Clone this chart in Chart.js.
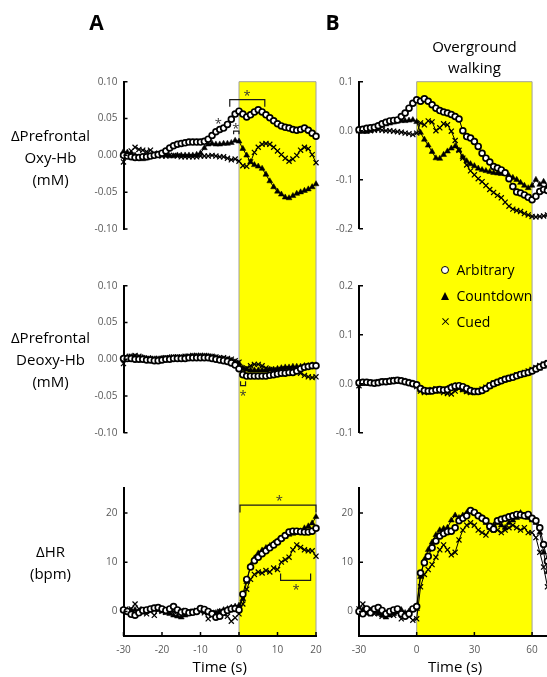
<!DOCTYPE html>
<html>
<head>
<meta charset="utf-8">
<script src="https://cdn.jsdelivr.net/npm/chart.js@4.4.0/dist/chart.umd.min.js"></script>
<style>
html, body { margin: 0; overflow: hidden; }
body { width: 547px; height: 677px; position: relative; background: #fff; font-family: 'Open Sans', sans-serif; color: #000; }
canvas { position: absolute; }
.txt { position: absolute; transform: translate(-50%, -50%); white-space: nowrap; text-align: center; }
.rotulo { font-size: 15px; line-height: 22px; }
.letra { font-size: 21px; font-weight: bold; line-height: 24px; }
.leg { position: absolute; font-size: 14px; line-height: 20px; transform: translateY(-50%); white-space: nowrap; }
.mk { position: absolute; box-sizing: border-box; }
.circ { width: 8px; height: 8px; border: 1.6px solid #000; border-radius: 50%; background: #fff; }
.tri { width: 0; height: 0; border-left: 4.5px solid transparent; border-right: 4.5px solid transparent; border-bottom: 8px solid #000; }
.cruz { width: 7px; height: 7px; }
.cruz:before, .cruz:after { content: ''; position: absolute; left: -1px; top: 2.8px; width: 9px; height: 1.4px; background: #000; }
.cruz:before { transform: rotate(45deg); }
.cruz:after { transform: rotate(-45deg); }
</style>
</head>
<body>

<canvas id="oxyA" width="330" height="257" style="left:0;top:0"></canvas>
<canvas id="deoxyA" width="330" height="203" style="left:0;top:257px"></canvas>
<canvas id="hrA" width="330" height="217" style="left:0;top:460px"></canvas>
<canvas id="oxyB" width="260" height="257" style="left:300px;top:0"></canvas>
<canvas id="deoxyB" width="260" height="203" style="left:300px;top:257px"></canvas>
<canvas id="hrB" width="260" height="217" style="left:300px;top:460px"></canvas>

<div class="txt letra" style="left:96.5px;top:22px">A</div>
<div class="txt letra" style="left:332.5px;top:22px">B</div>
<div class="txt rotulo" style="left:474.5px;top:57px;line-height:21px">Overground<br>walking</div>

<div class="txt rotulo" style="left:50.5px;top:157px">ΔPrefrontal<br>Oxy-Hb<br>(mM)</div>
<div class="txt rotulo" style="left:50.5px;top:358.7px">ΔPrefrontal<br>Deoxy-Hb<br>(mM)</div>
<div class="txt rotulo" style="left:50.5px;top:561.8px">ΔHR<br>(bpm)</div>

<span class="mk circ" style="left:441px;top:266px"></span>
<div class="leg" style="left:456.5px;top:270px">Arbitrary</div>
<span class="mk tri" style="left:440.5px;top:291.5px"></span>
<div class="leg" style="left:456.5px;top:295.7px">Countdown</div>
<span class="mk cruz" style="left:441.5px;top:318.2px"></span>
<div class="leg" style="left:456.5px;top:321.7px">Cued</div>

<script>
Chart.defaults.font.family = "'Open Sans', sans-serif";

// tempos (s)
var tempoA = [-30,-29,-28,-27,-26,-25,-24,-23,-22,-21,
              -20,-19,-18,-17,-16,-15,-14,-13,-12,-11,
              -10,-9,-8,-7,-6,-5,-4,-3,-2,-1,
              0,1,2,3,4,5,6,7,8,9,
              10,11,12,13,14,15,16,17,18,19,20];
var tempoB = [-30,-28,-26,-24,-22,-20,-18,-16,-14,-12,
              -10,-8,-6,-4,-2,0,2,4,6,8,
              10,12,14,16,18,20,22,24,26,28,
              30,32,34,36,38,40,42,44,46,48,
              50,52,54,56,58,60,62,64,66,68,70];

// A - Oxy-Hb (mM)
var oxyArbA = [0.000,-0.001,-0.002,-0.003,-0.003,-0.002,-0.002,-0.001,0.000,0.001,
               0.003,0.006,0.010,0.013,0.015,0.016,0.017,0.018,0.018,0.018,
               0.018,0.019,0.022,0.027,0.032,0.035,0.037,0.042,0.049,0.056,
               0.060,0.056,0.052,0.055,0.059,0.062,0.059,0.055,0.051,0.047,
               0.043,0.040,0.038,0.037,0.035,0.034,0.035,0.037,0.034,0.030,0.026];
var oxyCntA = [0.005,0.004,0.002,0.000,-0.003,-0.005,-0.004,-0.002,0.000,0.000,
               0.000,0.000,-0.001,-0.001,0.000,0.000,0.000,0.000,0.000,0.001,
               0.003,0.010,0.015,0.016,0.015,0.015,0.016,0.016,0.017,0.020,
               0.019,0.009,0.000,-0.009,-0.013,-0.015,-0.018,-0.026,-0.035,-0.043,
               -0.049,-0.053,-0.057,-0.058,-0.055,-0.052,-0.050,-0.048,-0.046,-0.043,-0.039];
var oxyCueA = [-0.009,0.000,0.006,0.011,0.008,0.007,0.005,0.007,0.003,0.000,
               -0.001,-0.001,0.000,0.000,-0.001,-0.002,-0.002,-0.002,-0.002,-0.002,
               -0.001,-0.001,-0.001,0.000,-0.001,-0.002,-0.002,-0.004,-0.006,-0.005,
               -0.008,-0.014,-0.015,-0.009,0.004,0.011,0.015,0.016,0.015,0.011,
               0.006,0.001,-0.004,-0.008,-0.005,0.000,0.007,0.011,0.009,0.001,-0.010];

// A - Deoxy-Hb (mM)
var deoxyArbA = [0.001,0.001,0.001,0.000,0.000,0.000,-0.001,-0.001,-0.002,-0.002,
                 -0.001,0.000,0.000,0.001,0.001,0.001,0.001,0.002,0.002,0.002,
                 0.002,0.002,0.002,0.001,0.000,-0.001,-0.002,-0.003,-0.005,-0.008,
                 -0.013,-0.021,-0.023,-0.023,-0.023,-0.023,-0.023,-0.023,-0.022,-0.021,
                 -0.020,-0.019,-0.019,-0.018,-0.018,-0.016,-0.013,-0.011,-0.010,-0.009,-0.009];
var deoxyCntA = [0.002,0.003,0.003,0.003,0.002,0.002,0.001,0.001,0.000,0.000,
                 0.001,0.001,0.002,0.002,0.002,0.002,0.003,0.003,0.004,0.004,
                 0.004,0.004,0.004,0.003,0.002,0.001,0.000,-0.001,-0.002,-0.004,
                 -0.006,-0.012,-0.014,-0.015,-0.015,-0.015,-0.015,-0.015,-0.014,-0.014,
                 -0.013,-0.012,-0.011,-0.011,-0.010,-0.010,-0.010,-0.009,-0.009,-0.008,-0.008];
var deoxyCueA = [-0.006,0.000,0.004,0.005,0.004,0.002,0.001,0.000,0.001,0.001,
                 0.001,0.002,0.002,0.003,0.003,0.003,0.004,0.004,0.005,0.005,
                 0.005,0.005,0.004,0.004,0.003,0.002,0.002,0.001,0.000,-0.002,
                 -0.004,-0.014,-0.012,-0.009,-0.007,-0.007,-0.009,-0.012,-0.014,-0.015,
                 -0.015,-0.014,-0.013,-0.013,-0.014,-0.016,-0.019,-0.022,-0.024,-0.025,-0.024];

// A - HR (bpm)
var hrArbA = [0.3,0.0,-0.6,-0.8,-0.3,0.2,0.3,0.5,0.7,0.8,
              0.5,0.2,0.5,1.0,0.3,-0.2,0.0,-0.3,-0.2,0.0,
              0.6,0.4,0.0,-0.5,-1.2,-1.0,-0.2,0.2,0.5,0.6,
              0.3,3.5,6.5,9.0,10.3,11.0,11.7,12.3,12.9,13.5,
              14.1,14.8,15.4,16.1,16.3,16.3,16.2,16.1,16.1,16.3,16.9];
var hrCntA = [0.5,0.3,0.2,0.3,0.0,-0.2,0.0,0.2,0.5,0.3,
              0.0,-0.3,-0.5,-0.8,-1.0,-1.2,-0.8,-0.5,-0.2,0.0,
              0.2,0.0,-0.3,-0.5,-0.3,0.0,0.3,0.5,0.8,1.0,
              1.2,2.5,6.0,9.3,10.8,11.8,12.4,12.9,13.3,13.8,
              14.3,14.8,15.2,15.6,15.8,16.0,16.3,16.9,17.3,17.9,19.2];
var hrCueA = [0.3,0.2,0.5,1.5,0.5,-0.2,-0.5,0.0,-0.8,0.3,
              0.0,-0.2,0.0,0.0,0.3,0.2,-0.3,0.0,0.0,0.2,
              0.0,-0.3,-1.5,-0.8,-0.2,0.0,-0.5,-1.0,-2.0,-1.3,
              -0.5,1.5,4.5,6.5,7.5,8.0,7.8,8.3,8.0,8.8,
              8.5,10.0,10.5,11.0,12.5,13.5,13.0,12.5,12.3,12.3,11.2];

// B - Oxy-Hb (mM)
var oxyArbB = [0.002,0.003,0.005,0.006,0.007,0.010,0.014,0.017,0.020,0.021,
               0.022,0.029,0.036,0.046,0.056,0.063,0.060,0.065,0.060,0.053,
               0.046,0.041,0.038,0.036,0.033,0.029,0.024,0.000,-0.012,-0.015,
               -0.022,-0.032,-0.046,-0.056,-0.064,-0.073,-0.076,-0.080,-0.086,-0.098,
               -0.114,-0.125,-0.127,-0.131,-0.136,-0.141,-0.134,-0.124,-0.120,-0.122,-0.125];
var oxyCntB = [0.000,-0.002,-0.002,0.000,0.003,0.006,0.010,0.013,0.015,0.017,
               0.019,0.020,0.020,0.021,0.022,0.018,-0.004,-0.018,-0.030,-0.043,
               -0.056,-0.057,-0.049,-0.042,-0.036,-0.032,-0.040,-0.054,-0.062,-0.068,
               -0.072,-0.077,-0.080,-0.082,-0.084,-0.086,-0.087,-0.088,-0.088,-0.092,
               -0.096,-0.100,-0.106,-0.112,-0.117,-0.112,-0.100,-0.110,-0.104,-0.112,-0.115];
var oxyCueB = [0.000,0.002,0.002,0.000,0.001,0.002,0.001,0.000,0.000,-0.001,
               -0.002,-0.003,-0.005,-0.006,-0.008,-0.005,0.016,0.012,0.020,0.018,
               0.000,0.006,0.014,0.012,-0.001,-0.020,-0.040,-0.056,-0.070,-0.082,
               -0.090,-0.098,-0.104,-0.112,-0.120,-0.126,-0.132,-0.137,-0.146,-0.154,
               -0.160,-0.163,-0.165,-0.169,-0.172,-0.175,-0.176,-0.175,-0.174,-0.172,-0.170];

// B - Deoxy-Hb (mM)
var deoxyArbB = [0.002,0.003,0.003,0.002,0.001,0.002,0.004,0.004,0.005,0.006,
                 0.007,0.006,0.004,0.002,0.000,-0.002,-0.010,-0.014,-0.015,-0.015,
                 -0.013,-0.012,-0.013,-0.012,-0.008,-0.005,-0.004,-0.006,-0.010,-0.014,
                 -0.016,-0.016,-0.014,-0.010,-0.004,0.000,0.003,0.006,0.009,0.011,
                 0.013,0.016,0.019,0.021,0.023,0.026,0.030,0.034,0.038,0.041,0.043];
var deoxyCntB = [0.000,0.002,0.001,0.000,0.001,0.003,0.003,0.004,0.006,0.007,
                 0.006,0.005,0.005,0.003,0.001,-0.004,-0.013,-0.017,-0.018,-0.016,
                 -0.015,-0.016,-0.015,-0.010,-0.006,-0.004,-0.008,-0.013,-0.016,-0.018,
                 -0.019,-0.018,-0.015,-0.011,-0.006,-0.002,0.002,0.005,0.007,0.010,
                 0.012,0.014,0.017,0.019,0.021,0.024,0.028,0.031,0.035,0.038,0.040];
var deoxyCueB = [-0.004,0.003,0.002,0.001,0.002,0.004,0.005,0.004,0.006,0.008,
                 0.008,0.006,0.004,0.002,0.000,-0.006,-0.015,-0.018,-0.016,-0.012,
                 -0.010,-0.014,-0.018,-0.020,-0.021,-0.015,-0.010,-0.012,-0.016,-0.018,
                 -0.017,-0.014,-0.011,-0.007,-0.003,0.001,0.004,0.007,0.010,0.012,
                 0.015,0.018,0.020,0.023,0.026,0.029,0.033,0.037,0.040,0.043,0.046];

// B - HR (bpm)
var hrArbB = [0.0,-0.5,0.5,-0.3,0.5,0.8,0.2,-0.5,0.0,0.3,
              0.5,-0.5,-1.0,-0.5,0.5,1.0,7.8,9.9,11.2,12.9,
              14.3,15.3,15.8,16.2,16.3,17.0,18.4,18.9,19.4,20.5,
              20.1,19.4,18.9,18.4,17.3,16.7,18.4,18.7,18.9,19.2,
              19.4,19.7,19.6,19.4,19.7,18.9,18.4,17.0,13.6,10.2,8.0];
var hrCntB = [0.5,0.3,-0.3,0.2,0.0,-0.5,-0.8,-1.2,-0.8,-0.5,
              0.0,0.3,-0.3,0.0,0.3,0.5,7.0,10.5,12.5,14.0,
              15.5,16.5,16.8,17.0,18.5,19.5,19.0,19.5,20.0,20.5,
              20.0,19.5,19.0,18.0,17.0,17.5,18.0,17.5,17.0,18.0,
              18.5,19.0,20.0,19.5,19.0,18.5,18.0,16.0,12.0,8.0,6.0];
var hrCueB = [0.5,1.5,-0.5,0.3,-0.5,0.0,-1.0,-0.5,0.0,-0.8,
              -0.3,-1.5,-0.5,-1.0,-1.8,-1.5,5.0,7.5,8.5,9.5,
              11.0,12.5,13.5,12.5,11.5,12.0,14.5,16.5,17.5,18.0,
              17.5,16.5,16.0,15.5,16.5,17.0,16.5,16.0,16.5,17.0,
              17.5,17.0,16.5,17.0,16.0,16.0,15.0,12.0,9.0,5.0,3.0];

// ticks
var ticksXA = [-30, -20, -10, 0, 10, 20];
var ticksXB = [-30, 0, 30, 60];
var ticksHbA = [-0.10, -0.05, 0, 0.05, 0.10];
var ticksOxyB = [-0.2, -0.1, 0, 0.1];
var ticksDeoxyB = [-0.1, 0, 0.1, 0.2];
var ticksHR = [0, 10, 20];

// periodo de caminhada (s)
var faixaA = [0, 20];
var faixaB = [0, 60];

// significancia: colchetes [inicio, fim, y da barra, y das pontas] e asteriscos [t, y]
var colchetesOxyA = [[-2.4, 6.7, 0.0757, 0.066], [-1.4, 0.0, 0.033, 0.0285]];
var asteriscosOxyA = [[2.1, 0.086], [-5.4, 0.0476], [-0.8, 0.040]];
var colchetesDeoxyA = [[0.4, 1.7, -0.036, -0.030]];
var asteriscosDeoxyA = [[1.05, -0.045]];
var colchetesHrA = [[0.26, 20, 21.6, 20.1], [10.8, 18.6, 6.3, 7.7]];
var asteriscosHrA = [[10.5, 23.1], [14.8, 5.1]];

// faixa amarela atras das curvas
var faixaPlugin = {
    id: 'faixa',
    beforeDraw: function(chart, args, o) {
        var ctx = chart.ctx, a = chart.chartArea, x = chart.scales.x;
        var x0 = x.getPixelForValue(o.de), x1 = x.getPixelForValue(o.ate);
        var topo = o.parte == 'topo' ? a.top : 0;
        var base = o.parte == 'base' ? a.bottom : chart.height;
        ctx.save();
        ctx.fillStyle = '#ffff00';
        ctx.fillRect(x0, topo, x1 - x0, base - topo);
        ctx.strokeStyle = '#a0a0a0';
        ctx.lineWidth = 1;
        ctx.beginPath();
        ctx.moveTo(x0, topo); ctx.lineTo(x0, base);
        ctx.moveTo(x1, topo); ctx.lineTo(x1, base);
        if (o.parte == 'topo') { ctx.moveTo(x0, topo); ctx.lineTo(x1, topo); }
        ctx.stroke();
        ctx.restore();
    }
};

// colchetes e asteriscos
var marcasPlugin = {
    id: 'marcas',
    afterDatasetsDraw: function(chart, args, o) {
        var ctx = chart.ctx, x = chart.scales.x, y = chart.scales.y;
        ctx.save();
        ctx.strokeStyle = '#1a1a1a';
        ctx.lineWidth = 1.2;
        (o.colchetes || []).forEach(function(c) {
            var x0 = x.getPixelForValue(c[0]), x1 = x.getPixelForValue(c[1]);
            var yb = y.getPixelForValue(c[2]), yp = y.getPixelForValue(c[3]);
            ctx.beginPath();
            ctx.moveTo(x0, yp); ctx.lineTo(x0, yb); ctx.lineTo(x1, yb); ctx.lineTo(x1, yp);
            ctx.stroke();
        });
        ctx.fillStyle = '#333';
        ctx.font = "13px 'Open Sans', sans-serif";
        ctx.textAlign = 'center';
        ctx.textBaseline = 'alphabetic';
        (o.asteriscos || []).forEach(function(s) {
            ctx.fillText('*', x.getPixelForValue(s[0]), y.getPixelForValue(s[1]) + 7.5);
        });
        ctx.restore();
    }
};

// riscos dos ticks para dentro
var riscosPlugin = {
    id: 'riscos',
    afterDraw: function(chart) {
        var ctx = chart.ctx, a = chart.chartArea, x = chart.scales.x, y = chart.scales.y;
        ctx.save();
        ctx.strokeStyle = '#000';
        ctx.lineWidth = 1.5;
        ctx.beginPath();
        y.ticks.forEach(function(t) {
            var p = y.getPixelForValue(t.value);
            ctx.moveTo(a.left, p); ctx.lineTo(a.left + 4, p);
        });
        if (x.options.display) {
            x.ticks.forEach(function(t) {
                var p = x.getPixelForValue(t.value);
                ctx.moveTo(p, a.bottom); ctx.lineTo(p, a.bottom - 4);
            });
        }
        ctx.stroke();
        ctx.restore();
    }
};

function serie(rotulo, tempos, valores, tipo) {
    var ds = {
        label: rotulo,
        data: tempos.map(function(t, i) { return {x: t, y: valores[i]}; }),
        borderColor: '#000',
        borderWidth: 1,
        tension: 0,
        clip: false,
        pointBorderColor: '#000'
    };
    if (tipo == 'circ') {
        ds.pointStyle = 'circle'; ds.pointRadius = 2.9; ds.pointBorderWidth = 1.7; ds.pointBackgroundColor = '#fff';
    } else if (tipo == 'tri') {
        ds.pointStyle = 'triangle'; ds.pointRadius = 3.4; ds.pointBorderWidth = 0.5; ds.pointBackgroundColor = '#000';
    } else {
        ds.pointStyle = 'crossRot'; ds.pointRadius = 3.6; ds.pointBorderWidth = 1.2; ds.pointBackgroundColor = '#000';
    }
    return ds;
}

function criarPainel(id, tempos, arb, cnt, cue, cfg) {
    var ctx = document.getElementById(id).getContext('2d');
    return new Chart(ctx, {
        type: 'line',
        data: {
            datasets: [
                serie('Arbitrary', tempos, arb, 'circ'),
                serie('Countdown', tempos, cnt, 'tri'),
                serie('Cued', tempos, cue, 'cruz')
            ]
        },
        options: {
            responsive: false,
            animation: false,
            layout: { padding: { left: 0, top: cfg.topo, bottom: cfg.base, right: cfg.direita } },
            plugins: {
                legend: { display: false },
                tooltip: { enabled: false },
                faixa: { de: cfg.faixa[0], ate: cfg.faixa[1], parte: cfg.parte },
                marcas: { colchetes: cfg.colchetes, asteriscos: cfg.asteriscos }
            },
            scales: {
                x: {
                    type: 'linear',
                    min: -30,
                    max: cfg.xMax,
                    display: cfg.eixoX,
                    afterBuildTicks: function(s) { s.ticks = cfg.ticksX.map(function(v) { return {value: v}; }); },
                    afterFit: function(s) { s.height = cfg.eixoX ? 41 : 0; },
                    grid: { display: false, drawTicks: false },
                    border: { color: '#000', width: 2 },
                    ticks: { color: '#595959', font: { size: 10 }, padding: 8, maxRotation: 0 },
                    title: { display: true, text: 'Time (s)', color: '#000', font: { size: 15 }, padding: 0 }
                },
                y: {
                    min: cfg.yMin,
                    max: cfg.yMax,
                    afterBuildTicks: function(s) { s.ticks = cfg.ticksY.map(function(v) { return {value: v}; }); },
                    afterFit: function(s) { s.width = cfg.largY; },
                    grid: { display: false, drawTicks: false },
                    border: { color: '#000', width: 2 },
                    ticks: {
                        color: '#595959',
                        font: { size: 10 },
                        padding: 6,
                        callback: function(v) { return cfg.casas == null ? String(v) : (Math.round(v * 1000) / 1000).toFixed(cfg.casas); }
                    }
                }
            }
        },
        plugins: [faixaPlugin, marcasPlugin, riscosPlugin]
    });
}

// coluna A
criarPainel('oxyA', tempoA, oxyArbA, oxyCntA, oxyCueA, {
    topo: 81.7, base: 28, direita: 14, largY: 123.5, xMax: 20, eixoX: false, ticksX: ticksXA,
    yMin: -0.10, yMax: 0.10, ticksY: ticksHbA, casas: 2, faixa: faixaA, parte: 'topo',
    colchetes: colchetesOxyA, asteriscos: asteriscosOxyA
});
criarPainel('deoxyA', tempoA, deoxyArbA, deoxyCntA, deoxyCueA, {
    topo: 28.7, base: 27.3, direita: 14, largY: 123.5, xMax: 20, eixoX: false, ticksX: ticksXA,
    yMin: -0.10, yMax: 0.10, ticksY: ticksHbA, casas: 2, faixa: faixaA, parte: 'meio',
    colchetes: colchetesDeoxyA, asteriscos: asteriscosDeoxyA
});
criarPainel('hrA', tempoA, hrArbA, hrCntA, hrCueA, {
    topo: 28.3, base: 0, direita: 14, largY: 123.5, xMax: 20, eixoX: true, ticksX: ticksXA,
    yMin: -5, yMax: 25, ticksY: ticksHR, casas: null, faixa: faixaA, parte: 'base',
    colchetes: colchetesHrA, asteriscos: asteriscosHrA
});

// coluna B
criarPainel('oxyB', tempoB, oxyArbB, oxyCntB, oxyCueB, {
    topo: 81.7, base: 28.3, direita: 8.7, largY: 59, xMax: 70, eixoX: false, ticksX: ticksXB,
    yMin: -0.2, yMax: 0.1, ticksY: ticksOxyB, casas: 1, faixa: faixaB, parte: 'topo'
});
criarPainel('deoxyB', tempoB, deoxyArbB, deoxyCntB, deoxyCueB, {
    topo: 28.7, base: 27.3, direita: 8.7, largY: 59, xMax: 70, eixoX: false, ticksX: ticksXB,
    yMin: -0.1, yMax: 0.2, ticksY: ticksDeoxyB, casas: 1, faixa: faixaB, parte: 'meio'
});
criarPainel('hrB', tempoB, hrArbB, hrCntB, hrCueB, {
    topo: 28.3, base: 0, direita: 8.7, largY: 59, xMax: 70, eixoX: true, ticksX: ticksXB,
    yMin: -5, yMax: 25, ticksY: ticksHR, casas: null, faixa: faixaB, parte: 'base'
});
</script>
</body>
</html>
